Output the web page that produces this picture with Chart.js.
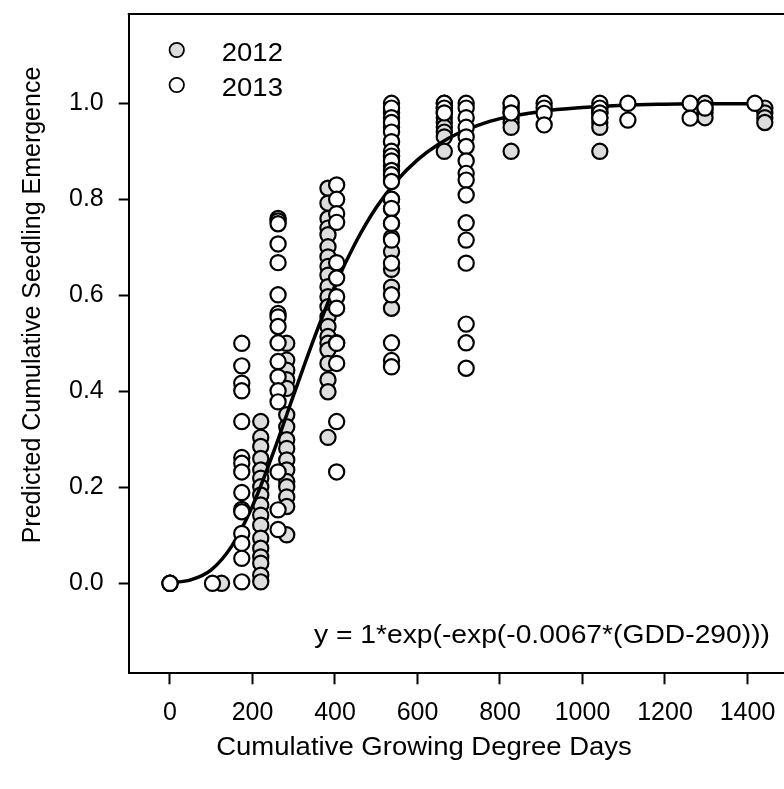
<!DOCTYPE html>
<html>
<head>
<meta charset="utf-8">
<script src="https://cdn.jsdelivr.net/npm/chart.js@4.4.0/dist/chart.umd.min.js"></script>
<style>
  html, body { margin: 0; padding: 0; background: #fff; overflow: hidden; }
  #wrap { position: relative; width: 784px; height: 789px; }
</style>
</head>
<body>
<div id="wrap"><canvas id="grafico" width="784" height="789"></canvas></div>
<script>
// ===== Dados =====
// colunas de GDD e valores de emergência em cada coluna
const gdd2012 = [0, 125, 220, 283, 383, 537, 665, 827, 1042, 1297, 1442];
const emerg2012 = [
  [0, 0],
  [0],
  [0.337, 0.304, 0.285, 0.26, 0.236, 0.219, 0.201, 0.184, 0.163, 0.142, 0.121, 0.094, 0.073, 0.055, 0.042, 0.017, 0.003],
  [0.5, 0.465, 0.444, 0.424, 0.406, 0.351, 0.326, 0.299, 0.281, 0.257, 0.236, 0.212, 0.201, 0.18, 0.16, 0.101],
  [0.823, 0.792, 0.76, 0.74, 0.726, 0.701, 0.68, 0.66, 0.642, 0.618, 0.597, 0.576, 0.555, 0.535, 0.514, 0.5, 0.486, 0.458, 0.424, 0.399, 0.304],
  [0.98, 0.95, 0.92, 0.89, 0.87, 0.84, 0.8, 0.78, 0.75, 0.72, 0.691, 0.654, 0.617, 0.573],
  [1.0, 0.99, 0.98, 0.97, 0.96, 0.95, 0.94, 0.93, 0.9],
  [1.0, 0.99, 0.98, 0.97, 0.96, 0.95, 0.9],
  [0.99, 0.98, 0.97, 0.96, 0.95, 0.9],
  [1.0, 0.99, 0.98, 0.97],
  [0.99, 0.98, 0.97, 0.96]
];

const gdd2013 = [0, 103, 174, 262, 404, 537, 665, 718, 827, 907, 1042, 1110, 1261, 1297, 1418];
const emerg2013 = [
  [0],
  [0],
  [0.5, 0.453, 0.417, 0.401, 0.337, 0.262, 0.25, 0.232, 0.189, 0.154, 0.149, 0.104, 0.083, 0.052, 0.003],
  [0.76, 0.755, 0.749, 0.707, 0.668, 0.601, 0.562, 0.555, 0.535, 0.501, 0.462, 0.43, 0.401, 0.378, 0.232, 0.153, 0.112],
  [0.83, 0.8, 0.77, 0.752, 0.668, 0.636, 0.597, 0.573, 0.501, 0.5, 0.458, 0.337, 0.232],
  [1.0, 0.99, 0.97, 0.96, 0.94, 0.92, 0.9, 0.89, 0.88, 0.86, 0.851, 0.837, 0.8, 0.781, 0.75, 0.715, 0.667, 0.601, 0.501, 0.464, 0.451],
  [1.0, 0.99, 0.98],
  [1.0, 0.99, 0.97, 0.95, 0.93, 0.91, 0.88, 0.854, 0.84, 0.809, 0.751, 0.715, 0.667, 0.54, 0.501, 0.448],
  [1.0, 0.98],
  [1.0, 0.99, 0.979, 0.955],
  [1.0, 0.99, 0.98, 0.97],
  [1.0, 0.965],
  [1.0, 0.969],
  [0.99],
  [1.0]
];

const curvaGdd = [0, 50, 100, 150, 200, 250, 300, 350, 400, 450, 500, 550, 600, 650, 700, 750, 800, 900, 1000, 1100, 1200, 1300, 1420];
const curvaValor = [0.001, 0.007, 0.028, 0.078, 0.161, 0.271, 0.393, 0.512, 0.62, 0.71, 0.783, 0.839, 0.882, 0.914, 0.938, 0.955, 0.968, 0.983, 0.991, 0.996, 0.998, 0.999, 0.999];

const ticksX = [0, 200, 400, 600, 800, 1000, 1200, 1400];
const ticksY = [0, 0.2, 0.4, 0.6, 0.8, 1.0];

const tituloX = 'Cumulative Growing Degree Days';
const tituloY = 'Predicted Cumulative Seedling Emergence';
const equacao = 'y = 1*exp(-exp(-0.0067*(GDD-290)))';

const fonte = '"Liberation Sans", Arial, sans-serif';
const cinza = '#dddddd';

const pontos = (xs, ys) => xs.flatMap((x, i) => ys[i].map(y => ({ x, y })));

// texto esticado na horizontal (o original é um pouco mais largo que Arial)
function texto(ctx, str, x, y, align, esticar) {
  ctx.save();
  ctx.translate(x, y);
  ctx.scale(esticar, 1);
  ctx.textAlign = align;
  ctx.fillText(str, 0, 0);
  ctx.restore();
}

const extras = {
  id: 'extras',
  afterDraw(chart) {
    const ctx = chart.ctx;
    const a = chart.chartArea;
    ctx.save();

    // ===== borda superior =====
    ctx.strokeStyle = '#000';
    ctx.lineWidth = 2;
    ctx.beginPath();
    ctx.moveTo(a.left - 1, a.top);
    ctx.lineTo(a.right, a.top);
    ctx.stroke();

    // ===== legenda =====
    ctx.font = '25px ' + fonte;
    ctx.fillStyle = '#000';
    ctx.textBaseline = 'alphabetic';
    const series = chart.data.datasets.filter(d => d.showLine !== true);
    series.sort((p, q) => p.label.localeCompare(q.label));
    series.forEach((d, i) => {
      const cy = a.top + 36 + i * 35;
      ctx.beginPath();
      ctx.arc(a.left + 48, cy, 7.2, 0, Math.PI * 2);
      ctx.fillStyle = d.backgroundColor;
      ctx.fill();
      ctx.lineWidth = 1.8;
      ctx.strokeStyle = '#000';
      ctx.stroke();
      ctx.fillStyle = '#000';
      texto(ctx, d.label, a.left + 93, cy + 11, 'left', 1.1);
    });

    // ===== equação =====
    texto(ctx, equacao, 770, 643, 'right', 1.13);

    // ===== títulos dos eixos =====
    ctx.textBaseline = 'middle';
    texto(ctx, tituloX, 424, 748, 'center', 1.1);
    ctx.translate(33, 305);
    ctx.rotate(-Math.PI / 2);
    ctx.textAlign = 'center';
    ctx.fillText(tituloY, 0, 0);

    ctx.restore();
  }
};

const eixoComum = {
  type: 'linear',
  border: { display: true, color: '#000', width: 2 },
  ticks: { color: '#000', font: { family: fonte, size: 25 }, autoSkip: false, maxRotation: 0 }
};

new Chart(document.getElementById('grafico'), {
  type: 'scatter',
  data: {
    datasets: [
      {
        label: '2013',
        data: pontos(gdd2013, emerg2013),
        backgroundColor: '#ffffff',
        borderColor: '#000',
        borderWidth: 2.2,
        pointRadius: 7.6,
        order: 0
      },
      {
        label: 'Ajuste',
        data: curvaGdd.map((x, i) => ({ x, y: curvaValor[i] })),
        showLine: true,
        borderColor: '#000',
        borderWidth: 3.5,
        pointRadius: 0,
        cubicInterpolationMode: 'monotone',
        order: 1
      },
      {
        label: '2012',
        data: pontos(gdd2012, emerg2012),
        backgroundColor: cinza,
        borderColor: '#000',
        borderWidth: 2.2,
        pointRadius: 7.6,
        order: 2
      }
    ]
  },
  options: {
    responsive: false,
    animation: false,
    layout: { autoPadding: false, padding: { top: 14, right: 0, bottom: 0, left: 0 } },
    plugins: { legend: { display: false }, tooltip: { enabled: false } },
    scales: {
      x: {
        ...eixoComum,
        min: -100,
        max: 1488.5,
        grid: { drawOnChartArea: false, drawTicks: true, tickLength: 11, tickWidth: 2, tickColor: '#000' },
        ticks: { ...eixoComum.ticks, padding: 14, callback: v => String(v) },
        afterBuildTicks: s => { s.ticks = ticksX.map(v => ({ value: v })); },
        afterFit: s => {
          s.height = 115.7;
          s.paddingLeft = 0; s.paddingRight = 0; s.paddingTop = 0; s.paddingBottom = 0;
        }
      },
      y: {
        ...eixoComum,
        min: -0.1875,
        max: 1.186,
        grid: { drawOnChartArea: false, drawTicks: true, tickLength: 10, tickWidth: 2, tickColor: '#000' },
        ticks: { ...eixoComum.ticks, padding: 15, callback: v => v.toFixed(1) },
        afterBuildTicks: s => { s.ticks = ticksY.map(v => ({ value: v })); },
        afterFit: s => {
          s.width = 128.75;
          s.paddingLeft = 0; s.paddingRight = 0; s.paddingTop = 0; s.paddingBottom = 0;
        }
      }
    }
  },
  plugins: [extras]
});
</script>
</body>
</html>
